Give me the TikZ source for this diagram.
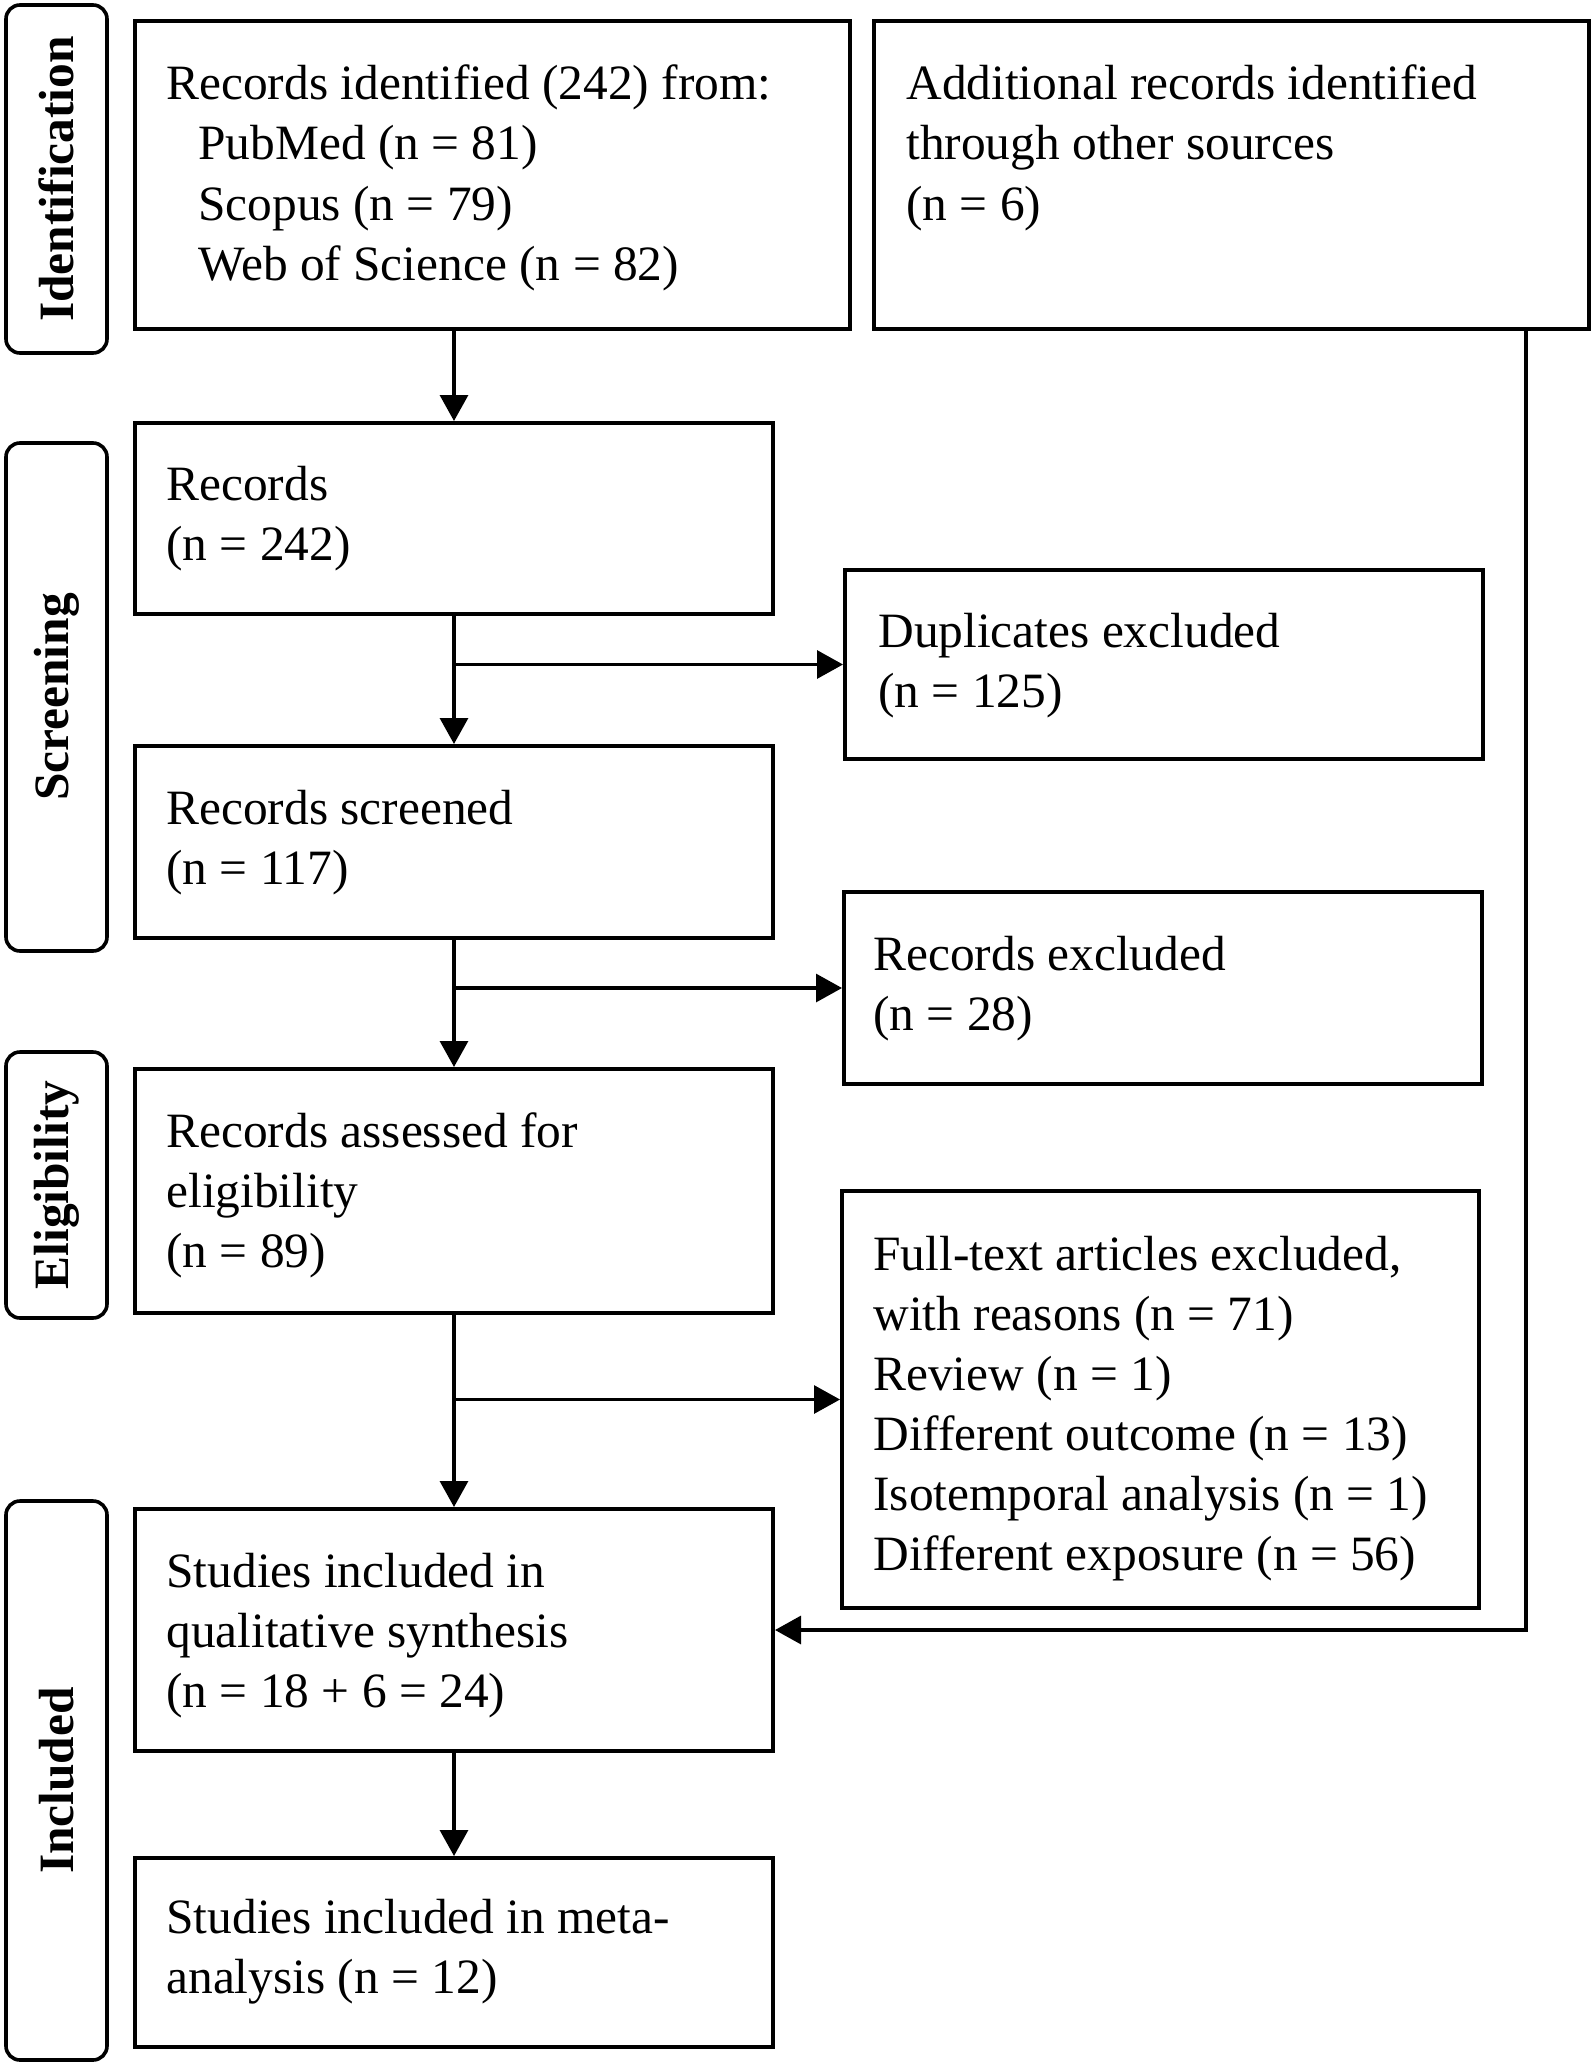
\documentclass[tikz,border=0pt]{standalone}
\usepackage{fontspec}
\setmainfont{Liberation Serif}
\usetikzlibrary{arrows.meta,calc,fit}
\newcommand{\bodyfont}{\fontsize{24.7}{30}\selectfont}
\newcommand{\lines}[1]{\begin{tabular}[t]{@{}l@{}}#1\end{tabular}}
\begin{document}
\begin{tikzpicture}[x=0.5pt,y=-0.5pt,
  box/.style={draw, line width=2pt, inner sep=0pt},
  lab/.style={draw, line width=1.8pt, rounded corners=7pt, inner sep=0pt},
  txt/.style={anchor=base west, inner sep=0pt, font=\bodyfont},
  side/.style={rotate=90, font=\bodyfont\bfseries, inner sep=0pt},
  arr/.style={line width=1.6pt, -{Triangle[length=13pt,width=14pt]}}]
\useasboundingbox (0,0) rectangle (1594,2066);

% side labels
\node[lab, fit={(6,5) (107,353)}] (lid) {};
\node[lab, fit={(6,443) (107,951)}] (lscr) {};
\node[lab, fit={(6,1052) (107,1318)}] (lel) {};
\node[lab, fit={(6,1501) (107,2060)}] (linc) {};
\node[side] (tlid) at (lid.center) {Identification};
\node[side] (tlscr) at (lscr.center) {Screening};
\node[side] (tlel) at (lel.center) {Eligibility};
\node[side] (tlinc) at (linc.center) {Included};

% boxes
\node[box, fit={(135,21) (850,329)}] (idbox) {};
\node[box, fit={(874,21) (1589,329)}] (addbox) {};
\node[box, fit={(135,423) (773,614)}] (rec) {};
\node[box, fit={(845,570) (1483,759)}] (dup) {};
\node[box, fit={(135,746) (773,938)}] (scr) {};
\node[box, fit={(844,892) (1482,1084)}] (exc) {};
\node[box, fit={(135,1069) (773,1313)}] (ass) {};
\node[box, fit={(842,1191) (1479,1608)}] (full) {};
\node[box, fit={(135,1509) (773,1751)}] (stud) {};
\node[box, fit={(135,1858) (773,2047)}] (meta) {};

% texts
\node[txt] (tid) at (166,100) {\lines{Records identified (242) from:\\\hspace*{16pt}PubMed (n = 81)\\\hspace*{16pt}Scopus (n = 79)\\\hspace*{16pt}Web of Science (n = 82)}};
\node[txt] (tadd) at (906,100) {\lines{Additional records identified\\through other sources\\(n = 6)}};
\node[txt] (trec) at (166,500) {\lines{Records\\(n = 242)}};
\node[txt] (tdup) at (878,647) {\lines{Duplicates excluded\\(n = 125)}};
\node[txt] (tscr) at (166,824) {\lines{Records screened\\(n = 117)}};
\node[txt] (texc) at (873,970) {\lines{Records excluded\\(n = 28)}};
\node[txt] (tass) at (166,1147) {\lines{Records assessed for\\eligibility\\(n = 89)}};
\node[txt] (tfull) at (873,1270) {\lines{Full-text articles excluded,\\with reasons (n = 71)\\Review (n = 1)\\Different outcome (n = 13)\\Isotemporal analysis (n = 1)\\Different exposure (n = 56)}};
\node[txt] (tstud) at (166,1587) {\lines{Studies included in\\qualitative synthesis\\(n = 18 + 6 = 24)}};
\node[txt] (tmeta) at (166,1933) {\lines{Studies included in meta-\\analysis (n = 12)}};

% connectors
\draw[arr] (idbox.south -| rec.north) -- (rec.north);
\draw[arr] (rec.south) -- (scr.north);
\draw[arr] (rec.south |- dup.west) -- (dup.west);
\draw[arr] (scr.south) -- (ass.north);
\draw[arr] (scr.south |- exc.west) -- (exc.west);
\draw[arr] (ass.south) -- (stud.north);
\draw[arr] (ass.south |- full.west) -- (full.west);
\draw[arr] (stud.south) -- (meta.north);
\coordinate (turn) at (1526,1630);
\draw[arr] (addbox.south -| turn) -- (turn) -- (stud.east);
\end{tikzpicture}
\end{document}
